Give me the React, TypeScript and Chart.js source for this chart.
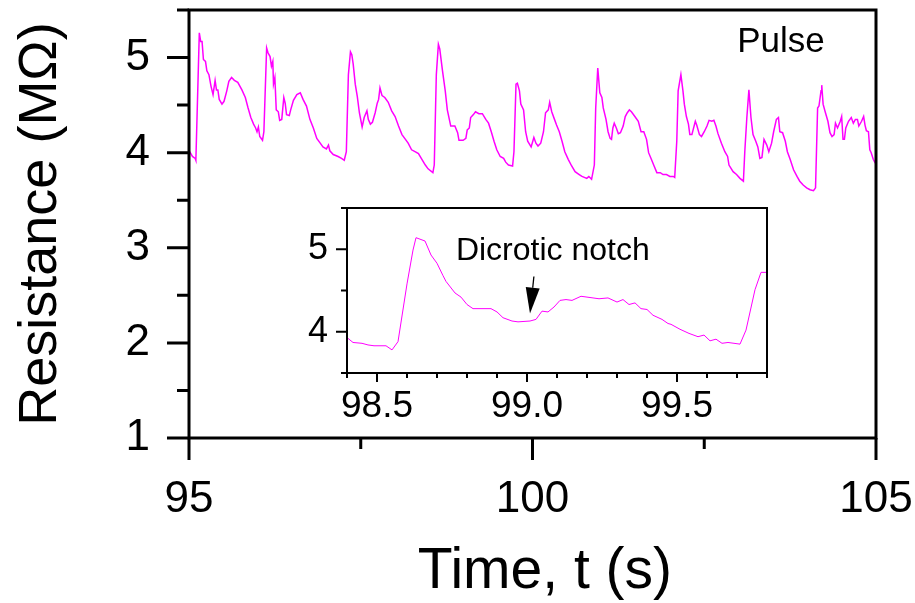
import React, { useEffect, useRef } from 'react';
import { Chart, registerables } from 'chart.js';

Chart.register(...registerables);

const FONT = '"Liberation Sans", Arial, Helvetica, sans-serif';
const MAGENTA = '#ff00ff';

// ---- Main trace: time (s) ----
const mainTime = [
  95.01, 95.05, 95.09, 95.10, 95.15, 95.17, 95.19, 95.21, 95.24, 95.26,
  95.29, 95.32, 95.35, 95.38, 95.40, 95.42, 95.44, 95.48, 95.51, 95.55,
  95.58, 95.62, 95.66, 95.71, 95.77, 95.82, 95.86, 95.90, 95.94, 95.97,
  95.99, 96.01, 96.03, 96.07, 96.09, 96.13, 96.15, 96.18, 96.20, 96.22,
  96.23, 96.25, 96.27, 96.30, 96.32, 96.35, 96.38, 96.40, 96.42, 96.46,
  96.48, 96.52, 96.57, 96.62, 96.66, 96.71, 96.76, 96.81, 96.86, 96.91,
  96.95,
  97.00, 97.03, 97.05, 97.10, 97.17, 97.22, 97.26, 97.29, 97.32, 97.35,
  97.37, 97.39, 97.42, 97.45, 97.48, 97.52, 97.55, 97.59, 97.61, 97.64,
  97.67, 97.71, 97.74, 97.76, 97.78, 97.81, 97.85, 97.90, 97.95, 98.00,
  98.05, 98.10, 98.14, 98.19, 98.24, 98.29, 98.34, 98.39, 98.44, 98.48,
  98.55, 98.57, 98.60, 98.63, 98.65, 98.69, 98.73, 98.76, 98.81, 98.87,
  98.91, 98.93,
  98.99, 99.03, 99.05, 99.08, 99.10, 99.14, 99.17, 99.22, 99.27, 99.32,
  99.36, 99.40, 99.44, 99.48, 99.53, 99.58, 99.61, 99.65, 99.71, 99.73,
  99.76, 99.78, 99.81, 99.83, 99.87, 99.90, 99.93, 99.98, 100.02, 100.05,
  100.08, 100.12, 100.16, 100.19, 100.23, 100.25, 100.28, 100.32, 100.35, 100.39,
  100.43, 100.47, 100.52, 100.57, 100.62, 100.68, 100.72, 100.79, 100.82, 100.86,
  100.90, 100.92, 100.95, 100.98, 101.01, 101.03, 101.07, 101.10, 101.13, 101.15,
  101.17, 101.19, 101.22, 101.25, 101.28, 101.32, 101.35, 101.38, 101.41, 101.44,
  101.49, 101.54, 101.58, 101.62, 101.66, 101.69, 101.73, 101.77, 101.81, 101.86,
  101.90, 101.95, 102.00, 102.05, 102.07, 102.10, 102.12, 102.16, 102.19, 102.21,
  102.24, 102.27, 102.29, 102.32, 102.37, 102.39, 102.43, 102.46, 102.50, 102.54,
  102.57, 102.61, 102.64, 102.67, 102.70, 102.75, 102.80, 102.84, 102.86,
  102.92, 102.97, 103.02, 103.07, 103.09, 103.12, 103.15, 103.18, 103.21, 103.25,
  103.28, 103.31, 103.34, 103.37, 103.41, 103.44, 103.48, 103.51, 103.55, 103.58,
  103.60, 103.64, 103.68, 103.71, 103.75, 103.80, 103.85, 103.89, 103.94, 103.99,
  104.04, 104.09, 104.12, 104.15, 104.17, 104.20, 104.21, 104.23, 104.26, 104.30,
  104.33, 104.36, 104.39, 104.41, 104.44, 104.48, 104.50, 104.52, 104.54, 104.56,
  104.60, 104.64, 104.67, 104.70, 104.73, 104.75, 104.79, 104.82, 104.84, 104.86,
  104.89, 104.91, 104.93, 104.96, 104.99,
];

// ---- Main trace: resistance (MΩ) ----
const mainRes = [
  4.01, 3.96, 3.94, 3.92, 5.26, 5.17, 5.17, 4.98, 4.96, 4.86,
  4.82, 4.70, 4.61, 4.76, 4.66, 4.66, 4.56, 4.51, 4.54, 4.65,
  4.75, 4.79, 4.76, 4.74, 4.66, 4.58, 4.47, 4.37, 4.30, 4.26,
  4.22, 4.27, 4.17, 4.13, 4.22, 5.10, 5.05, 5.01, 4.91, 4.96,
  4.72, 4.79, 4.45, 4.43, 4.34, 4.35, 4.58, 4.52, 4.40, 4.39,
  4.45, 4.55, 4.61, 4.63, 4.56, 4.49, 4.35, 4.26, 4.15, 4.10,
  4.06,
  4.04, 4.08, 4.02, 3.98, 3.96, 3.94, 3.92, 4.01, 4.82, 5.06,
  5.03, 4.93, 4.72, 4.59, 4.42, 4.27, 4.37, 4.44, 4.35, 4.30,
  4.32, 4.42, 4.52, 4.56, 4.68, 4.60, 4.58, 4.53, 4.44, 4.38,
  4.28, 4.19, 4.15, 4.10, 4.03, 4.01, 3.99, 3.93, 3.87, 3.83,
  3.79, 3.87, 4.82, 5.14, 5.09, 4.86, 4.65, 4.45, 4.28, 4.28,
  4.21, 4.13,
  4.13, 4.15, 4.24, 4.26, 4.37, 4.40, 4.43, 4.41, 4.41, 4.35,
  4.31, 4.22, 4.12, 4.03, 3.96, 3.94, 3.90, 3.87, 3.86, 4.01,
  4.72, 4.73, 4.65, 4.51, 4.45, 4.22, 4.12, 4.06, 4.16, 4.10,
  4.07, 4.10, 4.22, 4.42, 4.45, 4.53, 4.43, 4.35, 4.29, 4.22,
  4.12, 4.01, 3.93, 3.86, 3.80, 3.77, 3.75, 3.73, 3.75, 3.72,
  3.87, 4.47, 4.89, 4.63, 4.58, 4.47, 4.35, 4.22, 4.15, 4.14,
  4.26, 4.31, 4.26, 4.20, 4.21, 4.28, 4.38, 4.42, 4.45, 4.43,
  4.38, 4.33, 4.22, 4.22, 4.14, 4.00, 3.93, 3.86, 3.79, 3.79,
  3.77, 3.77, 3.75, 3.75, 3.74, 4.12, 4.65, 4.82, 4.65, 4.51,
  4.38, 4.30, 4.19, 4.19, 4.33, 4.29, 4.19, 4.17, 4.22, 4.28,
  4.34, 4.33, 4.34, 4.28, 4.20, 4.10, 4.01, 3.96, 3.87,
  3.80, 3.77, 3.73, 3.70, 4.01, 4.37, 4.66, 4.37, 4.19, 4.12,
  4.06, 3.94, 3.95, 4.14, 4.08, 4.01, 4.10, 4.22, 4.35, 4.37,
  4.22, 4.21, 4.12, 4.01, 3.93, 3.82, 3.75, 3.70, 3.66, 3.63,
  3.61, 3.60, 3.63, 4.47, 4.49, 4.65, 4.71, 4.51, 4.43, 4.33,
  4.21, 4.17, 4.19, 4.31, 4.26, 4.33, 4.38, 4.14, 4.14, 4.26,
  4.33, 4.37, 4.31, 4.35, 4.35, 4.28, 4.33, 4.38, 4.29, 4.23,
  4.22, 4.03, 4.00, 3.93, 3.89,
];

// ---- Inset trace (zoom of one pulse) ----
const insetTime = [
  98.40, 98.42, 98.45, 98.47, 98.49, 98.53, 98.55, 98.57, 98.60, 98.62,
  98.63, 98.66, 98.68, 98.70, 98.72, 98.73, 98.76, 98.78, 98.80, 98.82,
  98.88, 98.90, 98.92, 98.95, 98.97, 99.01, 99.03, 99.05, 99.07, 99.09,
  99.11, 99.13, 99.15, 99.18, 99.20, 99.24, 99.27, 99.30, 99.32, 99.34,
  99.36, 99.38, 99.40, 99.42, 99.45, 99.47, 99.48, 99.51, 99.54, 99.57,
  99.59, 99.61, 99.63, 99.65, 99.67, 99.71, 99.73, 99.76, 99.78, 99.80,
];
const insetRes = [
  3.93, 3.87, 3.86, 3.84, 3.83, 3.83, 3.78, 3.88, 4.58, 4.99,
  5.14, 5.10, 4.93, 4.83, 4.68, 4.61, 4.47, 4.42, 4.33, 4.28,
  4.28, 4.24, 4.17, 4.13, 4.12, 4.13, 4.15, 4.25, 4.24, 4.30,
  4.38, 4.39, 4.38, 4.43, 4.42, 4.40, 4.41, 4.36, 4.39, 4.33,
  4.35, 4.28, 4.27, 4.20, 4.15, 4.10, 4.09, 4.03, 3.98, 3.94,
  3.96, 3.89, 3.91, 3.86, 3.87, 3.85, 4.02, 4.51, 4.72, 4.72,
];

// ---- Axis ranges and ticks ----
const mainXRange = [95, 105];
const mainYRange = [1, 5.5];
const mainXMajor = [95, 100, 105];
const mainXMinor = [97.5, 102.5];
const mainYMajor = [1, 2, 3, 4, 5];
const mainYMinor = [1.5, 2.5, 3.5, 4.5, 5.5];

const insetXRange = [98.4, 99.8];
const insetYRange = [3.5, 5.5];
const insetXMajor = [98.5, 99.0, 99.5];
const insetXMinor = [98.4, 98.6, 98.7, 98.8, 98.9, 99.1, 99.2, 99.3, 99.4, 99.6, 99.7, 99.8];
const insetYMajor = [4, 5];
const insetYMinor = [3.5, 4.5, 5.5];

// ---- Text annotations (data coordinates) ----
const xTitle = { text: 'Time, t (s)', x: 100.18 };
const pulseLabel = { text: 'Pulse', x: 102.98, y: 5.06 };
const notchLabel = { text: 'Dicrotic notch', x: 98.763, y: 4.87 };
const notchArrow = { fromX: 99.023, fromY: 4.67, toX: 99.01, toY: 4.22 };

type TickSpec = {
  xMajor: number[]; xMinor: number[]; yMajor: number[]; yMinor: number[];
  xMajorLen: number; xMinorLen: number; yMajorLen: number; yMinorLen: number;
  tickWidth: number; frameWidth: number; fillArea: boolean;
};

function framePlugin(spec: TickSpec) {
  return {
    id: 'frameTicks',
    beforeDraw(chart: any) {
      if (!spec.fillArea) return;
      const { ctx, chartArea: a } = chart;
      ctx.save();
      ctx.fillStyle = '#fff';
      ctx.fillRect(a.left, a.top, a.right - a.left, a.bottom - a.top);
      ctx.restore();
    },
    afterDraw(chart: any) {
      const { ctx, chartArea: a } = chart;
      const xs = chart.scales.x;
      const ys = chart.scales.y;
      ctx.save();
      ctx.strokeStyle = '#000';
      ctx.lineCap = 'butt';
      ctx.lineWidth = spec.frameWidth;
      ctx.strokeRect(a.left, a.top, a.right - a.left, a.bottom - a.top);
      ctx.lineWidth = spec.tickWidth;
      ctx.beginPath();
      const xt = (vals: number[], len: number) => {
        vals.forEach((v) => {
          const p = xs.getPixelForValue(v);
          ctx.moveTo(p, a.bottom);
          ctx.lineTo(p, a.bottom + len);
        });
      };
      const yt = (vals: number[], len: number) => {
        vals.forEach((v) => {
          const p = ys.getPixelForValue(v);
          ctx.moveTo(a.left, p);
          ctx.lineTo(a.left - len, p);
        });
      };
      xt(spec.xMajor, spec.xMajorLen);
      xt(spec.xMinor, spec.xMinorLen);
      yt(spec.yMajor, spec.yMajorLen);
      yt(spec.yMinor, spec.yMinorLen);
      ctx.stroke();
      ctx.restore();
    },
  };
}

const mainTextPlugin = {
  id: 'mainText',
  afterDraw(chart: any) {
    const { ctx } = chart;
    const xs = chart.scales.x;
    const ys = chart.scales.y;
    ctx.save();
    ctx.fillStyle = '#000';
    ctx.font = `35px ${FONT}`;
    ctx.textAlign = 'left';
    ctx.textBaseline = 'alphabetic';
    ctx.fillText(pulseLabel.text, xs.getPixelForValue(pulseLabel.x), ys.getPixelForValue(pulseLabel.y));
    ctx.font = `57px ${FONT}`;
    ctx.textAlign = 'center';
    ctx.textBaseline = 'middle';
    ctx.fillText(xTitle.text, xs.getPixelForValue(xTitle.x), xs.bottom - 31);
    ctx.restore();
  },
};

const insetTextPlugin = {
  id: 'insetText',
  afterDraw(chart: any) {
    const { ctx } = chart;
    const xs = chart.scales.x;
    const ys = chart.scales.y;
    ctx.save();
    ctx.fillStyle = '#000';
    ctx.strokeStyle = '#000';
    ctx.font = `32px ${FONT}`;
    ctx.textAlign = 'left';
    ctx.textBaseline = 'alphabetic';
    ctx.fillText(notchLabel.text, xs.getPixelForValue(notchLabel.x), ys.getPixelForValue(notchLabel.y));
    const x0 = xs.getPixelForValue(notchArrow.fromX);
    const y0 = ys.getPixelForValue(notchArrow.fromY);
    const x1 = xs.getPixelForValue(notchArrow.toX);
    const y1 = ys.getPixelForValue(notchArrow.toY);
    const dx = x1 - x0;
    const dy = y1 - y0;
    const L = Math.hypot(dx, dy);
    const ux = dx / L;
    const uy = dy / L;
    const headLen = 26;
    const half = 7;
    const bx = x1 - ux * headLen;
    const by = y1 - uy * headLen;
    ctx.lineWidth = 1.3;
    ctx.beginPath();
    ctx.moveTo(x0, y0);
    ctx.lineTo(bx, by);
    ctx.stroke();
    ctx.beginPath();
    ctx.moveTo(x1, y1);
    ctx.lineTo(bx - uy * half, by + ux * half);
    ctx.lineTo(bx + uy * half, by - ux * half);
    ctx.closePath();
    ctx.fill();
    ctx.restore();
  },
};

const setTicks = (values: number[]) => (s: any) => {
  s.ticks = values.map((v) => ({ value: v }));
};

export default function App() {
  const mainRef = useRef<HTMLCanvasElement | null>(null);
  const insetRef = useRef<HTMLCanvasElement | null>(null);

  useEffect(() => {
    const prevMargin = document.body.style.margin;
    document.body.style.margin = '0';
    const mainData = mainTime.map((t, i) => ({ x: t, y: mainRes[i] }));
    const insetData = insetTime.map((t, i) => ({ x: t, y: insetRes[i] }));

    const main = new Chart(mainRef.current as HTMLCanvasElement, {
      type: 'line',
      data: {
        datasets: [{
          data: mainData,
          borderColor: MAGENTA,
          borderWidth: 1.5,
          pointRadius: 0,
          tension: 0,
          fill: false,
        }],
      },
      options: {
        animation: false,
        responsive: false,
        devicePixelRatio: 1,
        parsing: false as any,
        layout: { padding: { top: 10, right: 39, left: 0, bottom: 0 } },
        plugins: { legend: { display: false }, tooltip: { enabled: false } },
        scales: {
          x: {
            type: 'linear',
            min: mainXRange[0],
            max: mainXRange[1],
            grid: { display: false, drawTicks: false },
            border: { display: false },
            afterBuildTicks: setTicks(mainXMajor),
            ticks: {
              autoSkip: false,
              maxRotation: 0,
              padding: 40,
              color: '#000',
              font: { family: FONT, size: 44, lineHeight: 1 },
              callback: (v: any) => String(v),
            },
            title: { display: false },
            afterFit: (s: any) => { s.height = 165; s.paddingLeft = 0; s.paddingRight = 0; },
          },
          y: {
            type: 'linear',
            min: mainYRange[0],
            max: mainYRange[1],
            grid: { display: false, drawTicks: false },
            border: { display: false },
            afterBuildTicks: setTicks(mainYMajor),
            ticks: {
              padding: 39,
              color: '#000',
              font: { family: FONT, size: 44, lineHeight: 1 },
              callback: (v: any) => String(v),
            },
            title: {
              display: true,
              text: 'Resistance (MΩ)',
              color: '#000',
              font: { family: FONT, size: 54, lineHeight: 1 },
              padding: { top: 14, bottom: 0 },
            },
            afterFit: (s: any) => { s.width = 189; s.paddingTop = 0; s.paddingBottom = 0; },
          },
        },
      } as any,
      plugins: [
        framePlugin({
          xMajor: mainXMajor, xMinor: mainXMinor, yMajor: mainYMajor, yMinor: mainYMinor,
          xMajorLen: 22, xMinorLen: 11, yMajorLen: 22, yMinorLen: 12,
          tickWidth: 3, frameWidth: 3, fillArea: false,
        }),
        mainTextPlugin,
      ],
    });

    const inset = new Chart(insetRef.current as HTMLCanvasElement, {
      type: 'line',
      data: {
        datasets: [{
          data: insetData,
          borderColor: MAGENTA,
          borderWidth: 1,
          pointRadius: 0,
          tension: 0,
          fill: false,
        }],
      },
      options: {
        animation: false,
        responsive: false,
        devicePixelRatio: 1,
        parsing: false as any,
        layout: { padding: { top: 8, right: 13, left: 0, bottom: 0 } },
        plugins: { legend: { display: false }, tooltip: { enabled: false } },
        scales: {
          x: {
            type: 'linear',
            min: insetXRange[0],
            max: insetXRange[1],
            grid: { display: false, drawTicks: false },
            border: { display: false },
            afterBuildTicks: setTicks(insetXMajor),
            ticks: {
              autoSkip: false,
              maxRotation: 0,
              padding: 15,
              color: '#000',
              font: { family: FONT, size: 37, lineHeight: 1 },
              callback: (v: any) => Number(v).toFixed(1),
            },
            afterFit: (s: any) => { s.height = 57; s.paddingLeft = 0; s.paddingRight = 0; },
          },
          y: {
            type: 'linear',
            min: insetYRange[0],
            max: insetYRange[1],
            grid: { display: false, drawTicks: false },
            border: { display: false },
            afterBuildTicks: setTicks(insetYMajor),
            ticks: {
              padding: 19,
              color: '#000',
              font: { family: FONT, size: 36, lineHeight: 1 },
              callback: (v: any) => String(v),
            },
            afterFit: (s: any) => { s.width = 57; s.paddingTop = 0; s.paddingBottom = 0; },
          },
        },
      } as any,
      plugins: [
        framePlugin({
          xMajor: insetXMajor, xMinor: insetXMinor, yMajor: insetYMajor, yMinor: insetYMinor,
          xMajorLen: 9, xMinorLen: 5, yMajorLen: 11, yMinorLen: 6,
          tickWidth: 2, frameWidth: 2, fillArea: true,
        }),
        insetTextPlugin,
      ],
    });

    return () => {
      main.destroy();
      inset.destroy();
      document.body.style.margin = prevMargin;
    };
  }, []);

  return (
    <div style={{ position: 'relative', width: 915, height: 603, background: '#fff', overflow: 'hidden' }}>
      <canvas ref={mainRef} width={915} height={603} style={{ position: 'absolute', left: 0, top: 0, display: 'block' }} />
      <canvas ref={insetRef} width={490} height={230} style={{ position: 'absolute', left: 290, top: 200, display: 'block' }} />
    </div>
  );
}
